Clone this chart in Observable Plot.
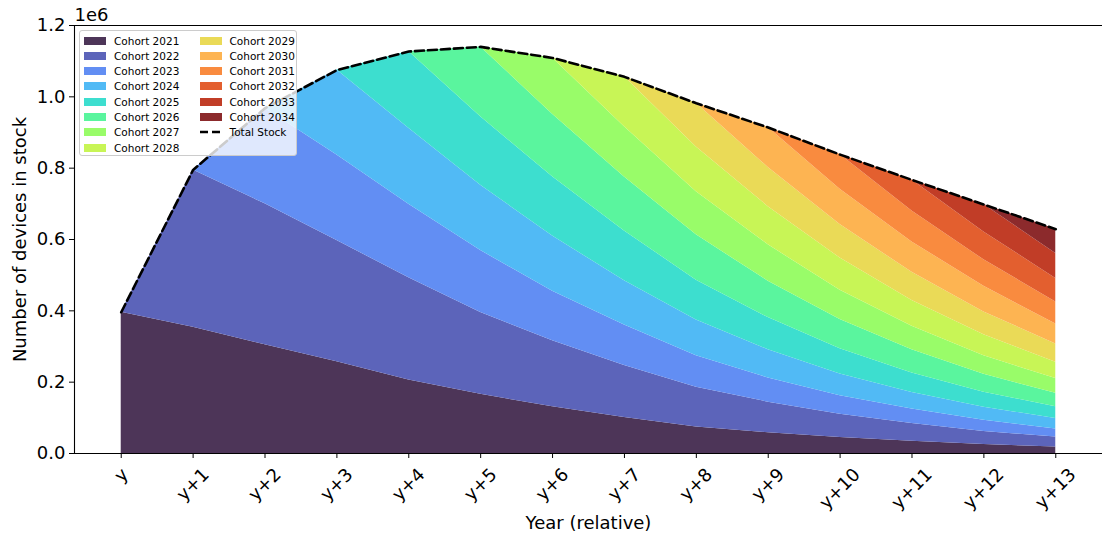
<!DOCTYPE html>
<html>
<head>
<meta charset="utf-8">
<script src="https://cdn.jsdelivr.net/npm/d3@7"></script>
<script src="https://cdn.jsdelivr.net/npm/@observablehq/plot@0.6"></script>
<style>
  html, body { margin: 0; padding: 0; background: #fff; }
  #wrap { position: relative; width: 1102px; height: 538px; font-family: "DejaVu Sans", sans-serif; }
  #legend { position: absolute; left: 79px; top: 30px; width: 218px; height: 126px;
    border: 1px solid #cccccc; border-radius: 3px; background: rgba(255,255,255,0.8); box-sizing: border-box; }
  .li { position: absolute; font-size: 10.5px; color: #000; line-height: 12px; white-space: nowrap; }
  .sw { position: absolute; width: 22px; height: 8px; }
</style>
</head>
<body>
<div id="wrap"><div id="chart"></div><div id="legend"></div></div>
<script>
// ---- data ----
const xLabels = ["y","y+1","y+2","y+3","y+4","y+5","y+6","y+7","y+8","y+9","y+10","y+11","y+12","y+13"];
const yearIdx = [0,1,2,3,4,5,6,7,8,9,10,11,12,13];
const cohorts = ["Cohort 2021","Cohort 2022","Cohort 2023","Cohort 2024","Cohort 2025","Cohort 2026","Cohort 2027",
                 "Cohort 2028","Cohort 2029","Cohort 2030","Cohort 2031","Cohort 2032","Cohort 2033","Cohort 2034"];
const colors = ["#4d3558","#5c64ba","#628ef3","#51baf5","#3ddecf","#5af59e","#99fc69",
                "#c8f556","#eada57","#fdb452","#f98b3f","#e35f2f","#c13d27","#8c2a2c"];
const c2021 = [396000,354000,305000,257000,206000,166000,131000,101000,74000,58000,45000,34000,25000,18000];
const c2022 = [0,441000,395000,340000,287000,229000,185000,146000,112000,86000,65000,50000,37000,28000];
const c2023 = [0,0,268000,240000,206000,174000,139000,113000,88000,68000,52000,41000,31000,23000];
const c2024 = [0,0,0,238000,213000,183000,155000,124000,100000,79000,61000,46000,37000,29000];
const c2025 = [0,0,0,0,215000,192000,166000,140000,112000,90000,71000,55000,42000,33000];
const c2026 = [0,0,0,0,0,196000,175000,151000,127000,102000,82000,65000,50000,38000];
const c2027 = [0,0,0,0,0,0,158000,141000,121000,102000,82000,66000,52000,41000];
const c2028 = [0,0,0,0,0,0,0,140000,125000,107000,90000,72000,59000,46000];
const c2029 = [0,0,0,0,0,0,0,0,123000,110000,94000,79000,64000,51000];
const c2030 = [0,0,0,0,0,0,0,0,0,112000,99000,85000,72000,56000];
const c2031 = [0,0,0,0,0,0,0,0,0,0,97000,87000,74000,62000];
const c2032 = [0,0,0,0,0,0,0,0,0,0,0,87000,78000,66000];
const c2033 = [0,0,0,0,0,0,0,0,0,0,0,0,77000,70000];
const c2034 = [0,0,0,0,0,0,0,0,0,0,0,0,0,68000];
const series = [c2021,c2022,c2023,c2024,c2025,c2026,c2027,c2028,c2029,c2030,c2031,c2032,c2033,c2034];
const yTicks = [0,200000,400000,600000,800000,1000000,1200000];

// ---- tables built from the arrays ----
const table = cohorts.flatMap((c, i) => series[i].map((v, j) => ({cohort: c, k: yearIdx[j], value: v})));
const totals = yearIdx.map((k, j) => ({k, total: d3.sum(series, s => s[j])}));
const labelRows = xLabels.map((t, j) => ({k: yearIdx[j], t}));

const W = 1102, H = 538;
const chart = Plot.plot({
  width: W, height: H,
  marginLeft: 74, marginRight: 0, marginTop: 25, marginBottom: 85,
  style: {fontFamily: "DejaVu Sans, sans-serif", fontSize: "18px", color: "#000", background: "#fff", overflow: "visible"},
  x: {type: "linear", domain: [-0.65, 13.65]},
  y: {domain: [0, 1200000]},
  color: {domain: cohorts, range: colors},
  marks: [
    Plot.areaY(table, {x: "k", y: "value", fill: "cohort", z: "cohort", order: cohorts}),
    Plot.lineY(totals, {x: "k", y: "total", stroke: "#000", strokeWidth: 2.6, strokeDasharray: "9,4"}),
    Plot.ruleY([0], {stroke: "#000", strokeWidth: 1.1}),
    Plot.ruleY([1200000], {stroke: "#000", strokeWidth: 1.1}),
    Plot.ruleX([-0.65], {stroke: "#000", strokeWidth: 1.1}),
    Plot.axisY({ticks: yTicks, tickFormat: d => (d / 1e6).toFixed(1), tickSize: 5, tickPadding: 4, label: null, stroke: "#000"}),
    Plot.axisX({ticks: yearIdx, tickFormat: () => "", tickSize: 5, label: null, stroke: "#000"}),
    Plot.text(labelRows, {filter: d => d.t.length === 1, x: "k", text: "t", frameAnchor: "bottom", rotate: -45, textAnchor: "end", lineAnchor: "middle", dy: 18, dx: 4, fontSize: 18}),
    Plot.text(labelRows, {filter: d => d.t.length === 3, x: "k", text: "t", frameAnchor: "bottom", rotate: -45, textAnchor: "end", lineAnchor: "middle", dy: 18, dx: 13, fontSize: 18}),
    Plot.text(labelRows, {filter: d => d.t.length === 4, x: "k", text: "t", frameAnchor: "bottom", rotate: -45, textAnchor: "end", lineAnchor: "middle", dy: 18, dx: 17, fontSize: 18}),
    Plot.text(["Year (relative)"], {frameAnchor: "bottom", textAnchor: "middle", lineAnchor: "middle", dy: 70, fontSize: 18}),
    Plot.text(["Number of devices in stock"], {frameAnchor: "left", textAnchor: "middle", lineAnchor: "middle", dx: -54, rotate: -90, fontSize: 18}),
    Plot.text(["1e6"], {frameAnchor: "top-left", dy: -10, textAnchor: "start", lineAnchor: "middle", fontSize: 18})
  ]
});
document.getElementById("chart").appendChild(chart);

// ---- legend (HTML overlay) ----
const lg = document.getElementById("legend");
const entries = cohorts.map((c, i) => ({label: c, color: colors[i], dash: false}));
entries.push({label: "Total Stock", color: "#000", dash: true});
entries.forEach((e, i) => {
  const col = i < 8 ? 0 : 1;
  const row = i < 8 ? i : i - 8;
  const left = col === 0 ? 4 : 119.5;
  const cy = 9.5 + row * 15.3;
  if (e.dash) {
    const s = document.createElementNS("http://www.w3.org/2000/svg", "svg");
    s.setAttribute("width", 24); s.setAttribute("height", 6);
    s.style.position = "absolute"; s.style.left = left + "px"; s.style.top = (cy - 3) + "px";
    s.innerHTML = '<line x1="0" y1="3" x2="22" y2="3" stroke="#000" stroke-width="2.6" stroke-dasharray="8,4"/>';
    lg.appendChild(s);
  } else {
    const sw = document.createElement("div");
    sw.className = "sw"; sw.style.background = e.color;
    sw.style.left = left + "px"; sw.style.top = (cy - 4) + "px";
    lg.appendChild(sw);
  }
  const t = document.createElement("div");
  t.className = "li"; t.textContent = e.label;
  t.style.left = (left + 30) + "px"; t.style.top = (cy - 6) + "px";
  lg.appendChild(t);
});
</script>
</body>
</html>
